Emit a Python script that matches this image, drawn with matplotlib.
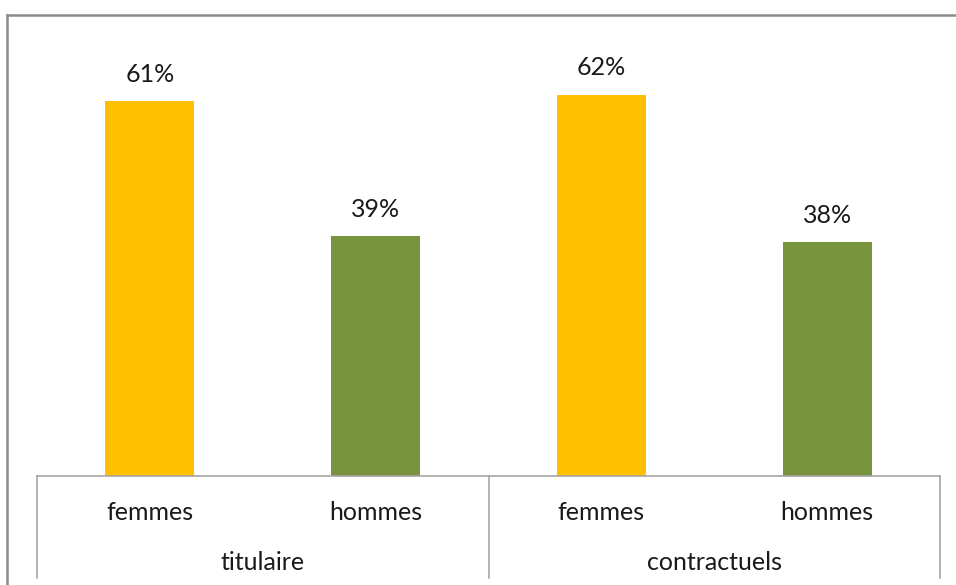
import matplotlib.pyplot as plt
from matplotlib.lines import Line2D

plt.rcParams['font.family'] = ['Lato', 'DejaVu Sans']

groups = ["titulaire", "contractuels"]
genres = ["femmes", "hommes"]
valeurs = [61, 39, 62, 38]
couleurs = ["#FFC000", "#77933C", "#FFC000", "#77933C"]

W, H = 956, 585
fig = plt.figure(figsize=(W / 100, H / 100), dpi=100)

# plot area: baseline at y=476 px, 70% at the top
ax = fig.add_axes([37 / W, (H - 476) / H, 903 / W, 430.5 / H])
x = list(range(len(valeurs)))
bars = ax.bar(x, valeurs, width=0.395, color=couleurs)
ax.set_xlim(-0.5, len(valeurs) - 0.5)
ax.set_ylim(0, 70)
for b, v in zip(bars, valeurs):
    ax.annotate(f"{v}%", (b.get_x() + b.get_width() / 2, v),
                xytext=(0, 11), textcoords="offset points",
                ha="center", va="bottom", fontsize=18, color="#1a1a1a")

ax.set_xticks([])
ax.set_yticks([])
for s in ["left", "right", "top"]:
    ax.spines[s].set_visible(False)
ax.spines["bottom"].set_color("#a6a6a6")
ax.spines["bottom"].set_linewidth(1.2)

# two-level category axis below the plot area
trans = ax.get_xaxis_transform()
for i, v in enumerate(valeurs):
    ax.text(i, -0.085, genres[i % 2], transform=trans, ha="center", va="center",
            fontsize=18, color="#1a1a1a")
for g, name in enumerate(groups):
    ax.text(2 * g + 0.5, -0.2, name, transform=trans, ha="center", va="center",
            fontsize=18, color="#1a1a1a")
for xb in [-0.5, 1.5, 3.5]:
    ax.add_line(Line2D([xb, xb], [0, -0.237], transform=trans, color="#a6a6a6",
                       lw=1.2, clip_on=False))

# chart frame (left and top edges)
fig.add_artist(Line2D([7 / W, 7 / W], [0, (H - 15) / H], color="#8c8c8c", lw=1.8))
fig.add_artist(Line2D([7 / W, 1], [(H - 15) / H, (H - 15) / H], color="#8c8c8c", lw=1.8))

fig.savefig("out.png", dpi=100)
